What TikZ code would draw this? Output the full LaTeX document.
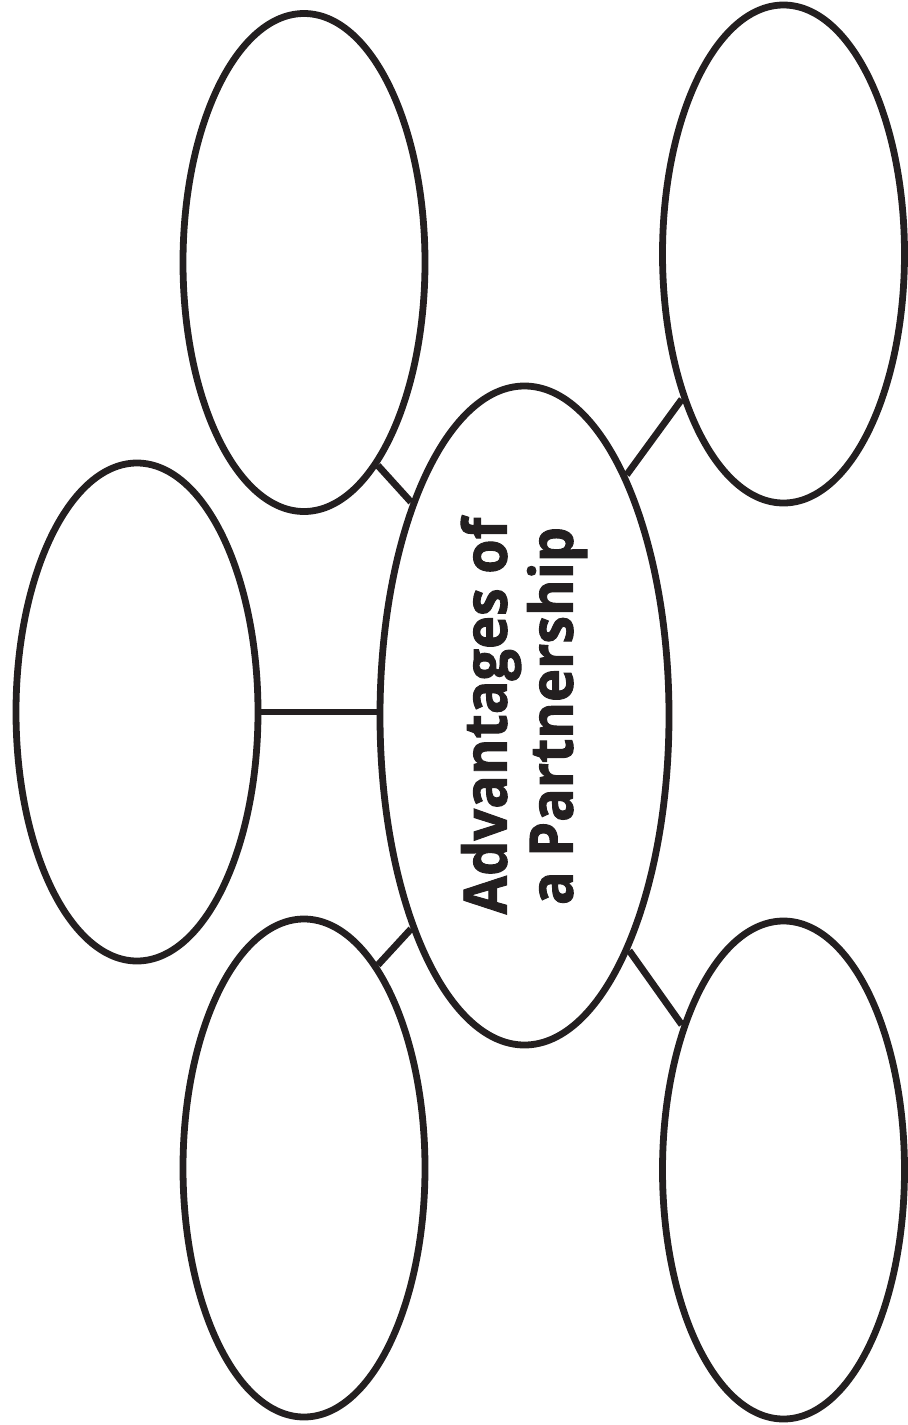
\documentclass[tikz,border=0pt]{standalone}
\usepackage{fontspec}
\setmainfont{Open Sans}[BoldFeatures={FakeBold=1.6,FakeStretch=0.93}]
\usepackage{tikz}
\usetikzlibrary{shapes.geometric}

\definecolor{ink}{HTML}{231F20}
\tikzset{
  bubble/.style={ellipse,draw=ink,line width=3.4pt,inner sep=0pt,minimum width=121pt,minimum height=249pt},
  link/.style={draw=ink,line width=3.4pt}
}

\begin{document}
\begin{tikzpicture}[x=0.5pt,y=-0.5pt]
  \useasboundingbox (0,0) rectangle (907,1425);
  % centre bubble with the title
  \node[bubble,minimum width=144.5pt,minimum height=329.5pt] (hub) at (524.5,715.5) {};
  \node[rotate=90,align=center,font=\bfseries\fontsize{30}{33}\selectfont,text=ink] (title) at (524,716) {Advantages of\\a Partnership};
  % empty bubbles round it
  \node[bubble] (tl) at (304,262.5) {};
  \node[bubble] (tr) at (783.5,254) {};
  \node[bubble] (lf) at (137,712) {};
  \node[bubble] (bl) at (304,1168) {};
  \node[bubble] (br) at (783.5,1170) {};
  % spokes
  \draw[link] (tl.-70.5) -- (hub.118.8);
  \draw[link] (tr.-125) -- (hub.67.6);
  \draw[link] (lf.east) -- (hub.west |- lf.east);
  \draw[link] (bl.70.6) -- (hub.-118.8);
  \draw[link] (br.125) -- (hub.-66.7);
\end{tikzpicture}
\end{document}
